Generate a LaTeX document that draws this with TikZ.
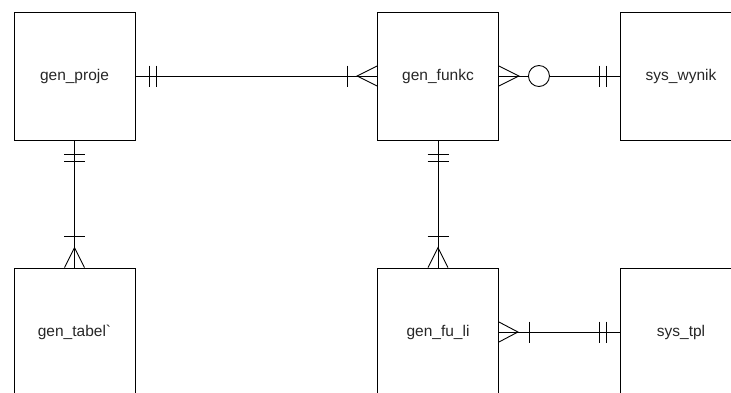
\documentclass[tikz,border=0pt]{standalone}
\usepackage{fontspec}
\setmainfont{Liberation Sans}
\usetikzlibrary{positioning,calc}
\begin{document}
\begin{tikzpicture}[x=1pt,y=-1pt,line width=.9pt,
    entity/.style={draw,minimum width=121pt,minimum height=128pt,inner sep=0pt,text=black!85,font=\fontsize{15.5}{18}\selectfont}]
    \useasboundingbox (0,0) rectangle (731,392);
    \clip (0,0) rectangle (731,392);
    % entities
    \node[entity] (proje) at (74.5,76) {gen\_proje};
    \node[entity] (funkc) at (438,76) {gen\_funkc};
    \node[entity] (wynik) at (681,76) {sys\_wynik};
    \node[entity] (tabel) at (74.5,332) {gen\_tabel\textasciigrave};
    \node[entity] (fu_li) at (438,332) {gen\_fu\_li};
    \node[entity] (tpl) at (681,332) {sys\_tpl};
    % relationships
    \draw (proje) -- (funkc);
    \draw (funkc) -- (wynik);
    \draw (proje) -- (tabel);
    \draw (funkc) -- (fu_li);
    \draw (fu_li) -- (tpl);
    % exactly one
    \foreach \d in {14,21}{
      \draw ($(proje.east)+(\d,-10.5)$) -- ++(0,21);
      \draw ($(wynik.west)+(-\d,-10.5)$) -- ++(0,21);
      \draw ($(tpl.west)+(-\d,-10.5)$) -- ++(0,21);
      \draw ($(proje.south)+(-10.5,\d)$) -- ++(21,0);
      \draw ($(funkc.south)+(-10.5,\d)$) -- ++(21,0);
    }
    % one or many
    \draw ($(funkc.west)+(-30,-10.5)$) -- ++(0,21);
    \draw ($(fu_li.east)+(30,-10.5)$) -- ++(0,21);
    \draw ($(tabel.north)+(-10.5,-31)$) -- ++(21,0);
    \draw ($(fu_li.north)+(-10.5,-31)$) -- ++(21,0);
    \draw ($(funkc.west)+(0,-10)$) -- ++(-20,10) -- ++(20,10);
    \draw ($(funkc.east)+(0,-10)$) -- ++(20,10) -- ++(-20,10);
    \draw ($(fu_li.east)+(0,-10)$) -- ++(19,10) -- ++(-19,10);
    \draw ($(tabel.north)+(-10,0)$) -- ++(10,-20) -- ++(10,20);
    \draw ($(fu_li.north)+(-10,0)$) -- ++(10,-20) -- ++(10,20);
    % zero or many
    \draw[fill=white] ($(funkc.east)+(40,0)$) circle[radius=10.5pt];
\end{tikzpicture}
\end{document}
